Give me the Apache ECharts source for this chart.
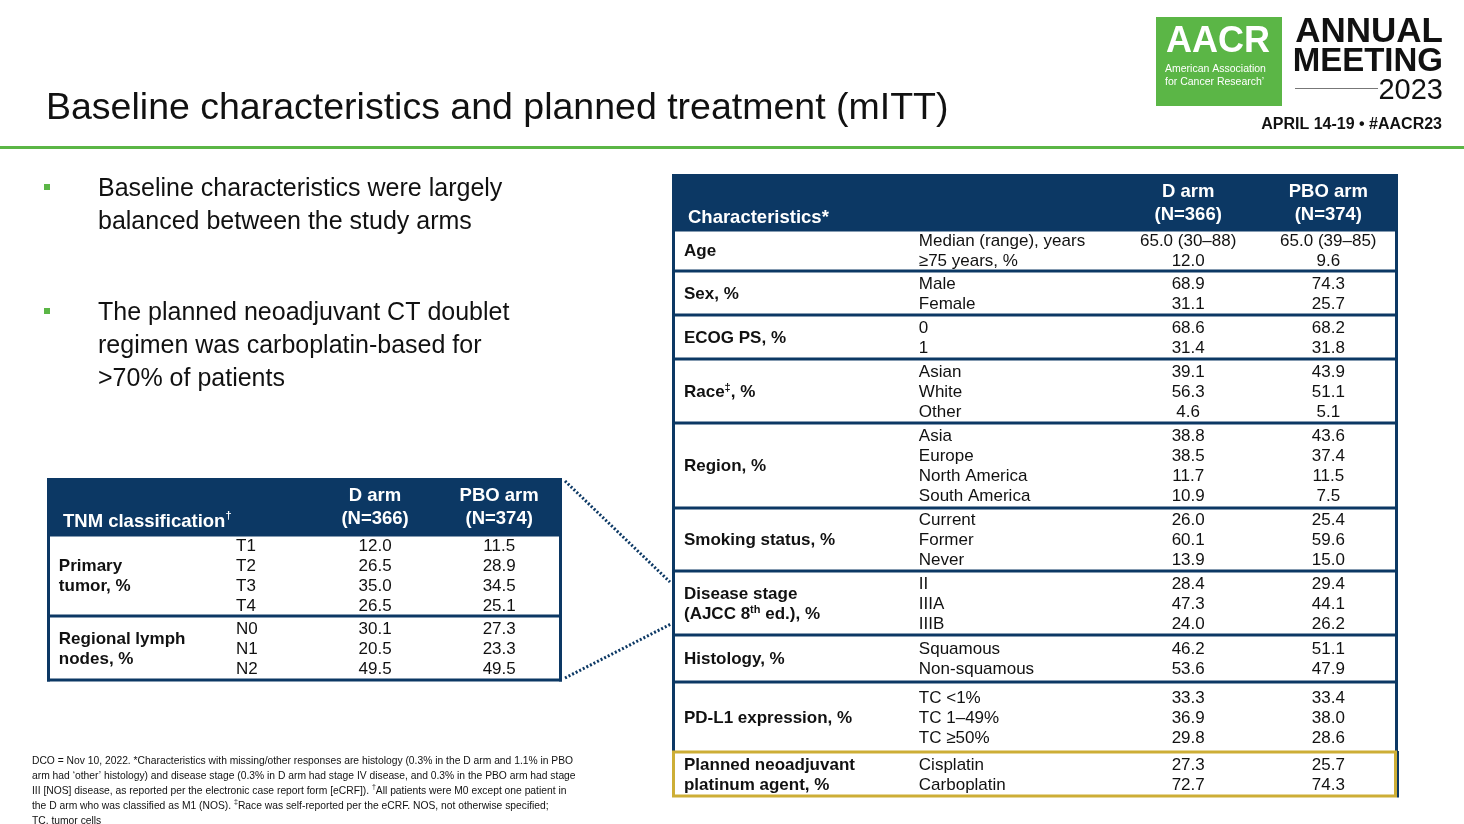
<!DOCTYPE html>
<html><head><meta charset="utf-8">
<script src="https://cdn.jsdelivr.net/npm/echarts@6/dist/echarts.min.js"></script>
<style>html,body{margin:0;padding:0;background:#fff}#c{width:1464px;height:824px}</style>
</head><body><div id="c"></div>
<script>
// ================= DATA =================
const slideTitle = 'Baseline characteristics and planned treatment (mITT)';
const bullets = [
  ['Baseline characteristics were largely', 'balanced between the study arms'],
  ['The planned neoadjuvant CT doublet', 'regimen was carboplatin-based for', '>70% of patients']
];
const armHeaders = ['D arm\n(N=366)', 'PBO arm\n(N=374)'];

const charTitle = 'Characteristics*';
const charGroups = ['Age', 'Sex, %', 'ECOG PS, %', 'Race{sup|‡}, %', 'Region, %', 'Smoking status, %',
  'Disease stage\n(AJCC 8{sup|th} ed.), %', 'Histology, %', 'PD-L1 expression, %', 'Planned neoadjuvant\nplatinum agent, %'];
const charRows = [
  ['Median (range), years', '≥75 years, %'],
  ['Male', 'Female'],
  ['0', '1'],
  ['Asian', 'White', 'Other'],
  ['Asia', 'Europe', 'North America', 'South America'],
  ['Current', 'Former', 'Never'],
  ['II', 'IIIA', 'IIIB'],
  ['Squamous', 'Non-squamous'],
  ['TC <1%', 'TC 1–49%', 'TC ≥50%'],
  ['Cisplatin', 'Carboplatin']
];
const charD = [['65.0 (30–88)', 12.0], [68.9, 31.1], [68.6, 31.4], [39.1, 56.3, 4.6], [38.8, 38.5, 11.7, 10.9],
  [26.0, 60.1, 13.9], [28.4, 47.3, 24.0], [46.2, 53.6], [33.3, 36.9, 29.8], [27.3, 72.7]];
const charPbo = [['65.0 (39–85)', 9.6], [74.3, 25.7], [68.2, 31.8], [43.9, 51.1, 5.1], [43.6, 37.4, 11.5, 7.5],
  [25.4, 59.6, 15.0], [29.4, 44.1, 26.2], [51.1, 47.9], [33.4, 38.0, 28.6], [25.7, 74.3]];

const tnmTitle = 'TNM classification{sup|†}';
const tnmGroups = ['Primary\ntumor, %', 'Regional lymph\nnodes, %'];
const tnmRows = [['T1', 'T2', 'T3', 'T4'], ['N0', 'N1', 'N2']];
const tnmD = [[12.0, 26.5, 35.0, 26.5], [30.1, 20.5, 49.5]];
const tnmPbo = [[11.5, 28.9, 34.5, 25.1], [27.3, 23.3, 49.5]];

const footnoteLines = [
  'DCO = Nov 10, 2022. *Characteristics with missing/other responses are histology (0.3% in the D arm and 1.1% in PBO',
  'arm had ‘other’ histology) and disease stage (0.3% in D arm had stage IV disease, and 0.3% in the PBO arm had stage',
  'III [NOS] disease, as reported per the electronic case report form [eCRF]). {sup|†}All patients were M0 except one patient in',
  'the D arm who was classified as M1 (NOS). {sup|‡}Race was self-reported per the eCRF. NOS, not otherwise specified;',
  'TC, tumor cells'
];

// ================= STYLE / LAYOUT =================
const FONT = "'Liberation Sans', Arial, Helvetica, sans-serif";
const NAVY = '#0c3864', GOLD = '#cdae36', GREEN = '#5bb646', TXT = '#111111';
const LINE = 20; // px per table row
const TEXT_DY = 1; // small baseline nudge
const bigLayout = { left: 672, top: 174, width: 726, header: 56, pads: [1, 4, 4, 4, 5, 3, 4, 7, 10, 4],
  cols: [1.65, 34.0, 71.1, 90.4], titleX: 2.2, titleDy: 15, highlight: 9 };
const smallLayout = { left: 47, top: 478, width: 515, header: 57, pads: [1, 4],
  cols: [2.3, 36.7, 63.7, 87.8], titleX: 3.1, titleDy: 14, highlight: -1 };

function fmt(v) { return typeof v === 'number' ? v.toFixed(1) : v; }

function buildTable(L, title, groups, rows, dVals, pVals) {
  let y = L.header / LINE;
  const items = [];
  groups.forEach((g, i) => {
    const n = rows[i].length;
    const top = y;
    const bottom = y + n + L.pads[i] / LINE;
    const centers = rows[i].map((_, k) => top + L.pads[i] / LINE / 2 + 0.5 + k);
    items.push({ label: g, top, bottom, centers, sub: rows[i], d: dVals[i].map(fmt), p: pVals[i].map(fmt),
      last: i === groups.length - 1, highlight: i === L.highlight });
    y = bottom;
  });
  return { items, total: y, title };
}

const bigT = buildTable(bigLayout, charTitle, charGroups, charRows, charD, charPbo);
const smallT = buildTable(smallLayout, tnmTitle, tnmGroups, tnmRows, tnmD, tnmPbo);

const richSup = (size, weight, color) => ({
  sup: { fontSize: size, fontWeight: weight, fontFamily: FONT, fill: color, color: color, verticalAlign: 'top', padding: [0, 0, 6, 0] }
});

function txt(x, y, text, size, weight, align, color, lineHeight) {
  return { type: 'text', style: { x, y: y + TEXT_DY, text, fontSize: size, fontWeight: weight, fontFamily: FONT, fill: color,
    align, verticalAlign: 'middle', lineHeight: lineHeight || LINE, rich: Object.assign({ '': {} }, richSup(Math.round(size * 0.62), weight, color)) } };
}

function headerRender(T, L) {
  return function (params, api) {
    const p0 = api.coord([0, 0]);
    const p1 = api.coord([100, L.header / LINE]);
    const cy = (p0[1] + p1[1]) / 2;
    const children = [
      { type: 'rect', shape: { x: p0[0], y: p0[1], width: p1[0] - p0[0], height: p1[1] - p0[1] }, style: { fill: NAVY } },
      txt(api.coord([L.titleX, 0])[0], cy + L.titleDy, T.title, 18.5, 'bold', 'left', '#ffffff', 23)
    ];
    armHeaders.forEach((h, k) => {
      children.push(txt(api.coord([L.cols[2 + k], 0])[0], cy, h, 18.5, 'bold', 'center', '#ffffff', 23));
    });
    return { type: 'group', children };
  };
}

function groupRender(T, L) {
  return function (params, api) {
    const g = T.items[params.dataIndex];
    const tl = api.coord([0, g.top]);
    const br = api.coord([100, g.bottom]);
    const children = [];
    if (g.highlight) {
      children.push({ type: 'rect', shape: { x: tl[0] + 1.5, y: tl[1], width: br[0] - tl[0] - 4, height: br[1] - tl[1] },
        style: { fill: 'none', stroke: GOLD, lineWidth: 3 } });
      children.push({ type: 'line', shape: { x1: br[0], y1: tl[1] - 1, x2: br[0], y2: br[1] + 1.5 }, style: { stroke: NAVY, lineWidth: 2 } });
    } else {
      children.push({ type: 'line', shape: { x1: tl[0], y1: tl[1], x2: br[0], y2: tl[1] }, style: { stroke: NAVY, lineWidth: 3 } });
      children.push({ type: 'line', shape: { x1: tl[0] + 1.5, y1: tl[1], x2: tl[0] + 1.5, y2: br[1] + (g.last ? 1.5 : 0) }, style: { stroke: NAVY, lineWidth: 3 } });
      children.push({ type: 'line', shape: { x1: br[0] - 1.5, y1: tl[1], x2: br[0] - 1.5, y2: br[1] + (g.last ? 1.5 : 0) }, style: { stroke: NAVY, lineWidth: 3 } });
      if (g.last) children.push({ type: 'line', shape: { x1: tl[0], y1: br[1], x2: br[0], y2: br[1] }, style: { stroke: NAVY, lineWidth: 3 } });
    }
    const cy = (tl[1] + br[1]) / 2;
    children.push(txt(api.coord([L.cols[0], 0])[0], cy, g.label, 17, 'bold', 'left', TXT, 20));
    g.centers.forEach((c, k) => {
      const yy = api.coord([0, c])[1];
      children.push(txt(api.coord([L.cols[1], 0])[0], yy, g.sub[k], 17, 'normal', 'left', TXT));
      children.push(txt(api.coord([L.cols[2], 0])[0], yy, g.d[k], 17, 'normal', 'center', TXT));
      children.push(txt(api.coord([L.cols[3], 0])[0], yy, g.p[k], 17, 'normal', 'center', TXT));
    });
    return { type: 'group', children };
  };
}

function gridFor(L, T) {
  return { left: L.left, top: L.top, width: L.width, height: T.total * LINE, containLabel: false, show: false };
}
function axesFor(idx, T) {
  return {
    x: { type: 'value', gridIndex: idx, min: 0, max: 100, show: false },
    y: { type: 'value', gridIndex: idx, min: 0, max: T.total, inverse: true, show: false }
  };
}
const ax0 = axesFor(0, bigT), ax1 = axesFor(1, smallT);

// ================= STATIC GRAPHICS =================
const graphics = [];
graphics.push({ type: 'text', x: 46, y: 109, style: { text: slideTitle, fontSize: 37.5, fontFamily: FONT, fill: TXT, align: 'left', verticalAlign: 'middle' } });
graphics.push({ type: 'rect', shape: { x: 0, y: 146, width: 1464, height: 3 }, style: { fill: GREEN } });
// bullets
const bulletTops = [187, 311];
bullets.forEach((lines, b) => {
  graphics.push({ type: 'rect', shape: { x: 44, y: bulletTops[b] - 3, width: 6, height: 6 }, style: { fill: GREEN } });
  graphics.push({ type: 'text', x: 98, y: bulletTops[b] - 14.5, style: { text: lines.join('\n'), fontSize: 25, lineHeight: 33, fontFamily: FONT, fill: TXT, align: 'left', verticalAlign: 'top' } });
});
// dotted connectors
graphics.push({ type: 'line', shape: { x1: 565, y1: 481, x2: 670, y2: 582 }, style: { stroke: NAVY, lineWidth: 3, lineDash: [2, 2] } });
graphics.push({ type: 'line', shape: { x1: 565, y1: 678, x2: 671, y2: 624 }, style: { stroke: NAVY, lineWidth: 3, lineDash: [2, 2] } });
// footnote
graphics.push({ type: 'text', x: 32, y: 754, style: {
  text: footnoteLines.join('\n'), fontSize: 10.3, lineHeight: 15, fontFamily: FONT, fill: TXT, align: 'left', verticalAlign: 'top',
  rich: { sup: { fontSize: 7, fontFamily: FONT, fill: TXT, verticalAlign: 'top', padding: [0, 0, 4, 0] } } } });
// logo
graphics.push({ type: 'rect', shape: { x: 1156, y: 17, width: 126, height: 89 }, style: { fill: GREEN } });
graphics.push({ type: 'text', x: 1218, y: 42, style: { text: 'AACR', fontSize: 36, fontWeight: 'bold', fontFamily: FONT, fill: '#fff', align: 'center', verticalAlign: 'middle' } });
graphics.push({ type: 'text', x: 1165, y: 63, style: { text: 'American Association\nfor Cancer Research’', fontSize: 10.5, lineHeight: 13, fontFamily: FONT, fill: '#fff', align: 'left', verticalAlign: 'top' } });
graphics.push({ type: 'text', x: 1443, y: 32, style: { text: 'ANNUAL', fontSize: 35, fontWeight: 'bold', fontFamily: FONT, fill: '#111', align: 'right', verticalAlign: 'middle' } });
graphics.push({ type: 'text', x: 1443, y: 62, style: { text: 'MEETING', fontSize: 33, fontWeight: 'bold', fontFamily: FONT, fill: '#111', align: 'right', verticalAlign: 'middle' } });
graphics.push({ type: 'rect', shape: { x: 1295, y: 88, width: 83, height: 1 }, style: { fill: '#777' } });
graphics.push({ type: 'text', x: 1443, y: 91, style: { text: '2023', fontSize: 29, fontFamily: FONT, fill: '#111', align: 'right', verticalAlign: 'middle' } });
graphics.push({ type: 'text', x: 1442, y: 125, style: { text: 'APRIL 14-19 • #AACR23', fontSize: 16, fontWeight: 'bold', fontFamily: FONT, fill: '#111', align: 'right', verticalAlign: 'middle' } });

// ================= CHART =================
const chart = echarts.init(document.getElementById('c'), null, { renderer: 'canvas' });
chart.setOption({
  backgroundColor: '#ffffff',
  animation: false,
  grid: [gridFor(bigLayout, bigT), gridFor(smallLayout, smallT)],
  xAxis: [ax0.x, ax1.x],
  yAxis: [ax0.y, ax1.y],
  graphic: graphics,
  series: [
    { type: 'custom', xAxisIndex: 0, yAxisIndex: 0, renderItem: headerRender(bigT, bigLayout), data: [[0, 0]], silent: true, clip: false },
    { type: 'custom', xAxisIndex: 0, yAxisIndex: 0, renderItem: groupRender(bigT, bigLayout), data: bigT.items.map(g => [0, g.top]), silent: true, clip: false },
    { type: 'custom', xAxisIndex: 1, yAxisIndex: 1, renderItem: headerRender(smallT, smallLayout), data: [[0, 0]], silent: true, clip: false },
    { type: 'custom', xAxisIndex: 1, yAxisIndex: 1, renderItem: groupRender(smallT, smallLayout), data: smallT.items.map(g => [0, g.top]), silent: true, clip: false }
  ]
});
</script>
</body></html>
